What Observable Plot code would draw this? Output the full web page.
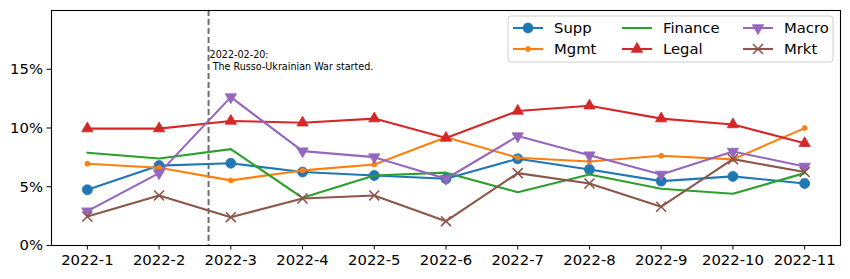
<!DOCTYPE html>
<html>
<head>
<meta charset="utf-8">
<script src="https://cdn.jsdelivr.net/npm/d3@7"></script>
<script src="https://cdn.jsdelivr.net/npm/@observablehq/plot@0.6"></script>
<style>
  html, body { margin: 0; padding: 0; background: #fff; }
  #chart { position: relative; width: 850px; height: 279px; }
</style>
</head>
<body>
<div id="chart"></div>
<script>
const months = ["2022-1","2022-2","2022-3","2022-4","2022-5","2022-6","2022-7","2022-8","2022-9","2022-10","2022-11"];
const supp    = [4.74, 6.80, 7.00, 6.25, 5.96, 5.68, 7.38, 6.47, 5.48, 5.88, 5.28];
const mgmt    = [6.96, 6.62, 5.54, 6.39, 6.90, 9.22, 7.47, 7.15, 7.64, 7.33, 9.99];
const finance = [7.90, 7.40, 8.20, 4.06, 5.96, 6.20, 4.54, 6.05, 4.83, 4.40, 6.16];
const legal   = [9.95, 9.95, 10.60, 10.45, 10.80, 9.15, 11.45, 11.90, 10.80, 10.30, 8.70];
const macro   = [2.92, 6.16, 12.63, 8.03, 7.52, 5.68, 9.31, 7.69, 6.05, 8.00, 6.73];
const mrkt    = [2.47, 4.26, 2.41, 4.00, 4.26, 2.07, 6.16, 5.28, 3.30, 7.35, 6.25];
const yTicks = [0, 0.05, 0.10, 0.15];
const eventPos = 1.69; // 2022-02-20 between 2022-2 and 2022-3
const eventLabel = "2022-02-20:\n The Russo-Ukrainian War started.";

const series = [
  {name: "Supp",    values: supp,    color: "#1f77b4", symbol: "circle",   r: 5.0, fill: true,  rotate: 0},
  {name: "Mgmt",    values: mgmt,    color: "#ff7f0e", symbol: "circle",   r: 2.5, fill: true,  rotate: 0},
  {name: "Finance", values: finance, color: "#2ca02c", symbol: null,       r: 0,   fill: true,  rotate: 0},
  {name: "Legal",   values: legal,   color: "#d62728", symbol: "triangle", r: 4.2, fill: true,  rotate: 0},
  {name: "Macro",   values: macro,   color: "#9467bd", symbol: "triangle", r: 4.2, fill: true,  rotate: 180},
  {name: "Mrkt",    values: mrkt,    color: "#8c564b", symbol: "times",    r: 4.6, fill: false, rotate: 0}
];

const rows = series.flatMap(s => s.values.map((v, i) => ({series: s.name, i, v: v / 100})));

const marks = [
  Plot.ruleX([eventPos], {stroke: "#707070", strokeWidth: 2, strokeDasharray: "6,3"}),
  Plot.text([eventLabel], {x: eventPos, y: 0.167, text: d => d, textAnchor: "start", lineAnchor: "top",
    fontSize: 9.6, lineHeight: 1.25, fill: "#000", dx: 1})
];
for (const s of series) {
  const d = rows.filter(r => r.series === s.name);
  marks.push(Plot.line(d, {x: "i", y: "v", stroke: s.color, strokeWidth: 2.1}));
  if (s.symbol) {
    marks.push(Plot.dot(d, {x: "i", y: "v", symbol: s.symbol, r: s.r, rotate: s.rotate,
      fill: s.fill ? s.color : "none", stroke: s.color, strokeWidth: s.fill ? 0.8 : 1.6}));
  }
}
marks.push(Plot.frame({stroke: "#000", strokeWidth: 1.1}));

const chart = Plot.plot({
  width: 850, height: 279,
  marginLeft: 51, marginRight: 10, marginTop: 10, marginBottom: 34,
  style: {fontFamily: "DejaVu Sans", fontSize: "14.8px", background: "#fff", color: "#000"},
  x: {domain: [-0.5, 10.5], ticks: d3.range(months.length), tickFormat: i => months[i], label: null, tickSize: 4.5, tickPadding: 4},
  y: {domain: [0, 0.2], ticks: yTicks, tickFormat: d3.format(".0%"), label: null, tickSize: 4.5, tickPadding: 4},
  marks
});
document.getElementById("chart").appendChild(chart);

// Legend inside plot area (upper right), three columns x two rows
const svg = d3.select(chart);
const lg = svg.append("g").attr("font-family", "DejaVu Sans").attr("font-size", 14.8).attr("text-anchor", "start");
lg.append("rect").attr("x", 508).attr("y", 16).attr("width", 325).attr("height", 46)
  .attr("rx", 3).attr("fill", "rgba(255,255,255,0.8)").attr("stroke", "#d0d0d0").attr("stroke-width", 1);
const colX = [513, 622, 743];
const rowY = [28, 49];
series.forEach((s, k) => {
  const cx = colX[Math.floor(k / 2)], cy = rowY[k % 2];
  const g = lg.append("g");
  g.append("line").attr("x1", cx).attr("x2", cx + 30).attr("y1", cy).attr("y2", cy)
    .attr("stroke", s.color).attr("stroke-width", 2.1);
  if (s.symbol) {
    const sym = s.symbol === "circle" ? d3.symbolCircle : s.symbol === "triangle" ? d3.symbolTriangle : d3.symbolTimes;
    g.append("path").attr("d", d3.symbol(sym, Math.PI * s.r * s.r)())
      .attr("transform", `translate(${cx + 15},${cy}) rotate(${s.rotate})`)
      .attr("fill", s.fill ? s.color : "none").attr("stroke", s.color).attr("stroke-width", s.fill ? 0.8 : 1.6);
  }
  g.append("text").attr("x", cx + 41).attr("y", cy).attr("dy", "0.35em").attr("text-anchor", "start")
    .attr("fill", "#000").text(s.name);
});
</script>
</body>
</html>
